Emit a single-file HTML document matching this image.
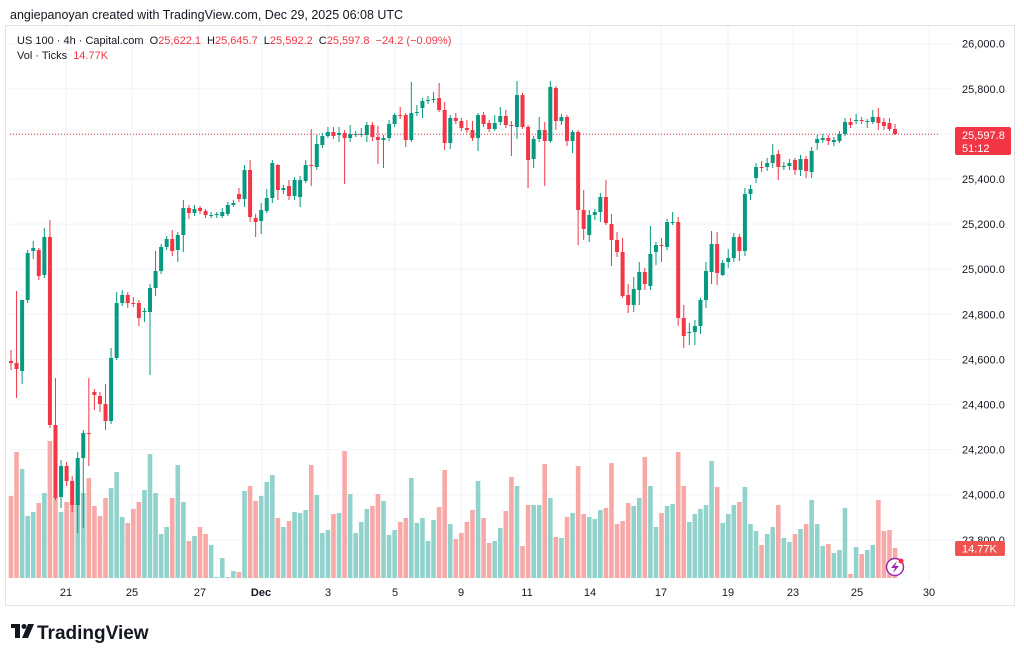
<!DOCTYPE html>
<html><head><meta charset="utf-8"><style>
html,body{margin:0;padding:0;background:#fff;width:1024px;height:661px;overflow:hidden;font-family:"Liberation Sans",sans-serif;}
svg{position:absolute;left:0;top:0}
</style></head><body>
<svg id="s" width="1024" height="661" xmlns="http://www.w3.org/2000/svg">
<rect x="0" y="0" width="1024" height="661" fill="#fff"/>
<rect x="5.5" y="25.5" width="1009" height="580" fill="none" stroke="#e0e3eb"/>
<g id="grid"></g><g id="vol"></g>
<line x1="10" x2="940" y1="134.3" y2="134.3" stroke="#f23645" stroke-width="1" stroke-dasharray="1,2"/>
<g id="cd"></g>
<text x="10" y="19" font-size="12.5" fill="#131722">angiepanoyan created with TradingView.com, Dec 29, 2025 06:08 UTC</text>
<text x="17" y="44" font-size="11" fill="#131722">US 100 · 4h · Capital.com <tspan dx="3">O</tspan><tspan fill="#f23645">25,622.1</tspan><tspan dx="6">H</tspan><tspan fill="#f23645">25,645.7</tspan><tspan dx="6">L</tspan><tspan fill="#f23645">25,592.2</tspan><tspan dx="6">C</tspan><tspan fill="#f23645">25,597.8</tspan><tspan dx="6" fill="#f23645">−24.2 (−0.09%)</tspan></text>
<text x="17" y="59" font-size="11" fill="#131722">Vol · Ticks <tspan dx="3" fill="#f23645">14.77K</tspan></text>
<g id="ax" font-size="11" fill="#131722"></g>
<rect x="955" y="127" width="56" height="28" rx="2" fill="#f23645"/>
<text x="962" y="139" font-size="11" fill="#fff">25,597.8</text>
<text x="962" y="152" font-size="11" fill="#fff">51:12</text>
<rect x="955" y="541" width="50" height="15" rx="2" fill="#ef5350"/>
<text x="962" y="552.5" font-size="11" fill="#fff">14.77K</text>
<circle cx="895" cy="567" r="8.5" fill="#fff" stroke="#9c27b0" stroke-width="1.5"/>
<path d="M897 561 L891 568 L895 568 L893 573 L899 566 L895 566 Z" fill="#9c27b0"/>
<circle cx="901" cy="561" r="2.5" fill="#f23645"/>
<g font-size="11" fill="#131722">
<text x="66" y="596" text-anchor="middle">21</text><text x="132" y="596" text-anchor="middle">25</text>
<text x="200" y="596" text-anchor="middle">27</text><text x="261" y="596" text-anchor="middle" font-weight="bold">Dec</text>
<text x="328" y="596" text-anchor="middle">3</text><text x="395" y="596" text-anchor="middle">5</text>
<text x="461" y="596" text-anchor="middle">9</text><text x="527" y="596" text-anchor="middle">11</text>
<text x="590" y="596" text-anchor="middle">14</text><text x="661" y="596" text-anchor="middle">17</text>
<text x="728" y="596" text-anchor="middle">19</text><text x="793" y="596" text-anchor="middle">23</text>
<text x="857" y="596" text-anchor="middle">25</text><text x="929" y="596" text-anchor="middle">30</text>
</g>
<g transform="translate(11,624)" fill="#131722">
<rect x="0" y="0" width="9" height="4"/><rect x="4" y="0" width="5" height="14"/>
<circle cx="13" cy="2.5" r="2.5"/><path d="M17 0 L23 0 L17 14 L11 14 Z"/>
</g>
<text x="37" y="639" font-size="19" font-weight="bold" fill="#131722">TradingView</text>
</svg>
<script>
var NS="http://www.w3.org/2000/svg";
function el(p,t,a){var e=document.createElementNS(NS,t);for(var k in a)e.setAttribute(k,a[k]);document.getElementById(p).appendChild(e);return e;}
// grid
for(var k=0;k<12;k++){var y=43.7+k*45.1;el("grid","line",{x1:10,x2:953,y1:y,y2:y,stroke:"#f0f3fa"});}
[66,132,199,262,328,395,461,527,590,661,728,793,857,929].forEach(function(x){el("grid","line",{x1:x,x2:x,y1:26,y2:580,stroke:"#f0f3fa"});});
var labs=["26,000.0","25,800.0",null,"25,400.0","25,200.0","25,000.0","24,800.0","24,600.0","24,400.0","24,200.0","24,000.0","23,800.0"];
labs.forEach(function(l,k){if(!l)return;var t=el("ax","text",{x:962,y:43.7+k*45.1+4});t.textContent=l;});
// candles [o,c,h,l]
var C=[[361,363,350,370],[363,369,291,398],[371,300,300,384],[300,253,250,303],[251,248,241,259],[250,276,248,280],[275,237,228,278],[237,425,220,428],[425,498,378,500],[497,466,460,508],[466,481,462,486],[481,505,476,512],[505,458,452,533],[458,433,430,528],[433,434,378,466],[392,395,389,410],[396,404,392,412],[404,421,384,430],[421,358,348,424],[358,303,292,360],[303,295,290,306],[295,303,292,308],[303,304,297,307],[303,318,300,326],[312,311,308,322],[312,288,284,375],[288,271,251,296],[271,247,244,274],[247,239,236,250],[239,251,230,256],[250,235,232,262],[235,208,200,252],[208,213,205,219],[213,209,205,216],[208,211,206,214],[211,215,209,218],[215,215,212,218],[215,214,212,218],[216,212,208,218],[214,205,202,216],[205,203,200,207],[194,199,188,202],[199,170,165,207],[170,217,160,222],[218,222,214,237],[221,210,203,234],[211,198,189,213],[198,163,160,203],[165,190,164,200],[190,188,185,194],[186,196,180,200],[196,180,177,200],[197,180,176,207],[181,165,160,183],[165,166,129,186],[167,144,135,170],[145,136,133,148],[136,132,127,138],[132,136,127,139],[135,133,127,142],[133,138,130,184],[138,134,125,142],[134,134,131,137],[134,134,128,137],[135,125,122,142],[125,137,122,141],[137,140,126,164],[140,138,135,168],[138,124,120,141],[124,115,113,127],[115,116,107,119],[115,140,113,147],[140,113,82,142],[113,112,105,116],[108,101,98,118],[101,100,96,104],[99,99,92,103],[98,110,83,112],[110,143,102,150],[143,118,115,149],[118,121,113,124],[121,128,118,131],[128,130,120,133],[130,138,121,141],[138,115,113,151],[115,124,112,127],[123,129,120,132],[129,123,115,131],[122,116,107,125],[116,125,110,128],[125,126,121,156],[127,95,81,139],[95,127,93,129],[127,160,125,188],[159,139,136,168],[139,130,117,142],[130,141,122,186],[141,87,81,143],[88,121,86,130],[121,117,114,125],[117,141,115,146],[141,132,130,153],[132,210,130,245],[210,229,190,240],[235,215,210,242],[215,212,209,220],[212,197,193,222],[197,223,180,225],[224,240,214,266],[240,252,232,257],[252,296,238,298],[295,305,284,313],[305,289,277,312],[290,272,262,305],[272,284,268,290],[286,254,226,290],[252,245,242,265],[245,246,238,262],[247,222,219,250],[222,222,212,225],[222,318,217,326],[318,336,305,348],[333,332,323,345],[332,326,320,345],[326,300,298,334],[300,271,262,308],[272,244,231,284],[244,273,232,285],[275,263,260,276],[262,258,249,268],[258,237,233,262],[237,251,234,261],[251,194,188,256],[194,189,185,200],[178,167,163,183],[167,168,161,172],[167,163,158,171],[163,155,144,168],[154,167,150,180],[167,166,162,170],[166,163,159,170],[160,170,158,175],[170,159,155,176],[159,171,156,178],[172,151,147,178],[143,139,135,150],[140,138,134,143],[138,141,135,145],[142,140,137,146],[141,134,131,143],[134,122,118,136],[122,125,118,128],[121,120,114,124],[120,121,117,124],[121,121,119,128],[122,117,110,124],[117,123,108,130],[122,126,118,130],[123,129,118,131],[129,134,124,135]];
var V=[496,452,469,516,512,503,493,441,498,512,502,502,468,493,478,506,516,498,488,472,517,523,509,502,490,454,493,534,527,498,465,502,541,536,527,534,545,577,558,577,571,572,491,486,501,496,482,475,518,527,521,512,513,510,465,495,533,530,514,513,451,494,533,522,509,506,494,501,535,530,522,518,478,523,518,541,520,507,470,524,539,533,522,510,481,518,543,541,528,511,477,486,546,505,505,505,464,498,537,538,517,513,466,514,517,519,510,508,463,524,521,503,506,498,457,486,527,513,506,504,452,486,522,514,509,505,461,487,523,514,505,502,487,524,531,545,534,527,505,538,542,534,529,524,500,524,546,544,553,550,508,574,547,554,550,545,500,531,530,548];
C.forEach(function(c,i){
 var x=11+i*5.56, up=c[1]<=c[0]&&!(c[0]==c[1]&&i>0&&C[i-1][1]<c[1]);
 var col=up?"#089981":"#f23645", vcol=up?"#92d2cc":"#f7a9a7";
 var vt=V[i]||560; el("vol","rect",{x:x-2.3,y:vt,width:4.6,height:578-vt,fill:vcol});
 el("cd","line",{x1:x,x2:x,y1:c[2],y2:c[3],stroke:col,"stroke-width":1});
 var t=Math.min(c[0],c[1]),h=Math.max(1,Math.abs(c[1]-c[0]));
 el("cd","rect",{x:x-2,y:t,width:4,height:h,fill:col});
});
</script>
</body></html>
